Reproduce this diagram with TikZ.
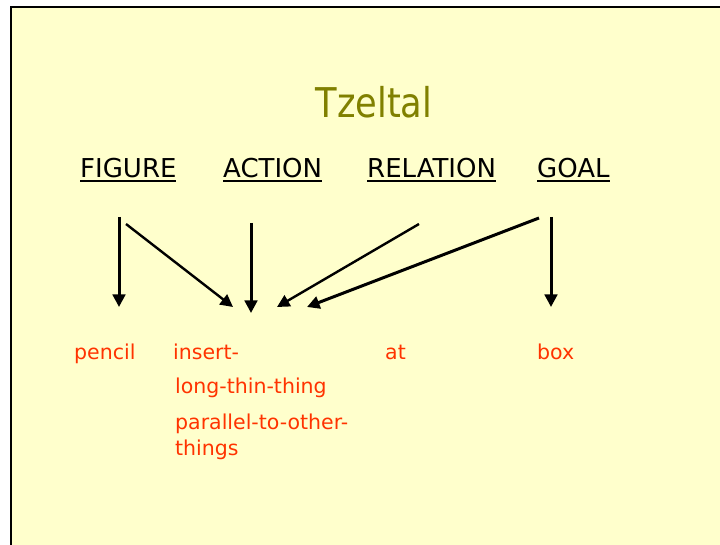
\documentclass[tikz,border=0pt]{standalone}
\usepackage{fontspec}
\setmainfont{DejaVu Sans}
\newfontfamily\titlefont{DejaVu Sans}[FakeStretch=0.86]
\usetikzlibrary{arrows.meta}
\definecolor{slidebg}{HTML}{FFFFCC}
\definecolor{titleol}{HTML}{808000}
\definecolor{redtxt}{HTML}{FF3300}
\newcommand\myul[1]{\setbox0\hbox{#1}\rlap{\rule[-4.4pt]{\wd0}{1.9pt}}\box0}
\tikzset{
  head/.style={anchor=base west,inner sep=0pt,font=\fontsize{26}{30}\selectfont,text=black},
  word/.style={anchor=base west,inner sep=0pt,font=\fontsize{20.5}{24}\selectfont,text=redtxt},
  arr/.style={draw=black,line width=3pt,-{Triangle[width=12.5pt,length=12.5pt]}},
  arrthin/.style={draw=black,line width=2.4pt,-{Triangle[width=12.5pt,length=12.5pt]}}
}
\begin{document}
\begin{tikzpicture}[x=1pt,y=-1pt]
\useasboundingbox (0,0) rectangle (720,545);
\fill[white] (0,0) rectangle (720,545);
\fill[slidebg] (11,7) rectangle (720,545);
\draw[line width=2.5pt,line cap=rect] (11,546) -- (11,7) -- (721,7);
% title
\node[anchor=base,inner sep=0pt,font=\titlefont\fontsize{41}{50}\selectfont,text=titleol] (title) at (374,118) {Tzeltal};
% headers
\node[head] (fig) at (80,178) {\myul{FIGURE}};
\node[head] (act) at (223,178) {\myul{ACTION}};
\node[head] (rel) at (367,178) {\myul{RELATION}};
\node[head] (goal) at (537,178) {\myul{GOAL}};
% words
\node[word] (pencil) at (74,359) {pencil};
\node[word] (ins) at (173,359) {insert-};
\node[word] (ltt) at (175,393) {long-thin-thing};
\node[word] (par) at (175,429) {parallel-to-other-};
\node[word] (thg) at (175,455) {things};
\node[word] (at) at (385,359) {at};
\node[word] (box) at (537,359) {box};
% arrow endpoints
\coordinate (a1s) at (119,217); \coordinate (a1e) at (119,307);
\coordinate (a2s) at (126,224); \coordinate (a2e) at (233,307);
\coordinate (a3s) at (251,223); \coordinate (a3e) at (251,313);
\coordinate (a4s) at (419,224); \coordinate (a4e) at (277,307);
\coordinate (a5s) at (539,218); \coordinate (a5e) at (307,307);
\coordinate (a6s) at (551,217); \coordinate (a6e) at (551,307);
\draw[arr] (a1s) -- (a1e);
\draw[arrthin] (a2s) -- (a2e);
\draw[arr] (a3s) -- (a3e);
\draw[arrthin] (a4s) -- (a4e);
\draw[arr] (a5s) -- (a5e);
\draw[arr] (a6s) -- (a6e);
\end{tikzpicture}
\end{document}
